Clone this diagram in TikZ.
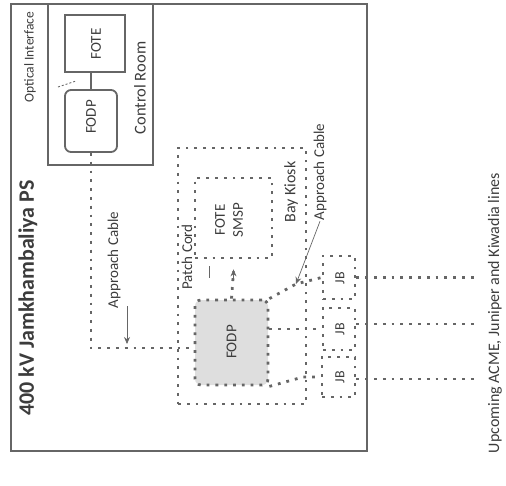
\documentclass[tikz,border=0pt]{standalone}
\usepackage{fontspec}
\setmainfont{Carlito}
\usetikzlibrary{arrows.meta,calc}
\definecolor{linegray}{HTML}{666666}
\definecolor{txtgray}{HTML}{3C3C3C}
\definecolor{fillgray}{HTML}{DEDEDE}
\begin{document}
\begin{tikzpicture}[x=1pt,y=-1pt,
  solidbox/.style={rectangle, draw=linegray, line width=1.8pt, inner sep=0pt},
  dotbox/.style={rectangle, draw=linegray, line width=2.8pt, dash pattern=on 2.8pt off 6pt, inner sep=0pt},
  dotline/.style={draw=linegray, line width=2.8pt, dash pattern=on 2.8pt off 6pt},
  pointer/.style={draw=linegray, line width=0.7pt, -{Stealth[length=7pt,width=6pt]}},
  conn/.style={draw=linegray, line width=1.8pt},
  lbl/.style={text=txtgray, rotate=90, inner sep=1pt, font=\fontsize{15}{16}\selectfont},
]
\useasboundingbox (0,0) rectangle (506,485);

% outer substation box and control room
\node[solidbox, line width=2.4pt, minimum width=356pt, minimum height=447pt] (ps) at (189,227.5) {};
\node[solidbox, line width=2.4pt, minimum width=105pt, minimum height=161pt] (cr) at (100.5,84.5) {};
\node[solidbox, line width=1.8pt, minimum width=60pt, minimum height=57pt] (fotec) at (95,43.5) {};
\node[solidbox, line width=1.8pt, rounded corners=6pt, minimum width=52pt, minimum height=62pt] (fodpc) at (91,121) {};
\draw[conn] (fodpc.north) -- (fodpc.north |- fotec.south);

% bay kiosk
\node[dotbox, minimum width=128pt, minimum height=256pt] (kiosk) at (242,276) {};
\node[dotbox, minimum width=77pt, minimum height=80pt] (smsp) at (233.5,218) {};
\node[dotbox, fill=fillgray, rounded corners=6pt, minimum width=73pt, minimum height=85pt] (fodpk) at (231.5,342.5) {};

% junction boxes
\node[dotbox, minimum width=32pt, minimum height=43pt] (jb1) at (339,277.5) {};
\node[dotbox, minimum width=32pt, minimum height=42pt] (jb2) at (339,329) {};
\node[dotbox, minimum width=33pt, minimum height=40pt] (jb3) at (338.5,377) {};

\coordinate (e1) at (475,277.5);
\coordinate (e2) at (475,324);
\coordinate (e3) at (475,379);
\coordinate (b1) at (296,284);
\coordinate (b3) at (303,377);

% connectors
\draw[dotline] (fodpc.south) |- ([yshift=-5.5pt]fodpk.west);
\draw[dotline] (fodpk.north) -- ([yshift=-12pt]smsp.south);
\draw[draw=linegray, line width=0.9pt, -{Stealth[length=7pt,width=6pt]}] ([yshift=-20pt]smsp.south) -- ([yshift=-10pt]smsp.south);
\draw[dotline] (fodpk.north east) -- (b1) -- (jb1.west);
\draw[dotline] (fodpk.east |- jb2.west) -- (jb2.west);
\draw[dotline] (fodpk.south east) -- (b3) -- (jb3.west);
\draw[dotline] (jb1.east) -- (e1);
\draw[dotline] (jb2.east |- e2) -- (e2);
\draw[dotline] (jb3.east |- e3) -- (e3);

% labels
\node[lbl, font=\fontsize{22}{23}\selectfont\bfseries] (title) at (28,298) {400 kV Jamkhambaliya PS};
\node[lbl, font=\fontsize{13.5}{14}\selectfont] (oi) at (30,57) {Optical Interface};
\node[lbl, font=\fontsize{16.5}{17}\selectfont] (crl) at (140,88) {Control Room};
\node[lbl, font=\fontsize{15}{16}\selectfont] (fotel) at (96,44) {FOTE};
\node[lbl, font=\fontsize{15}{16}\selectfont] (fodpl) at (91,117) {FODP};
\node[lbl] (acl) at (114,260) {Approach Cable};
\node[lbl] (pcl) at (187,257) {Patch Cord};
\node[lbl, align=center, font=\fontsize{15}{18}\selectfont] (smspl) at (229,220) {FOTE\\SMSP};
\node[lbl, font=\fontsize{15}{16}\selectfont] (fodpkl) at (231.5,342) {FODP};
\node[lbl, font=\fontsize{16}{17}\selectfont] (bkl) at (291,192) {Bay Kiosk};
\node[lbl] (acr) at (320,172) {Approach Cable};
\node[lbl, font=\fontsize{14}{15}\selectfont] (jb1l) at (340,278) {JB};
\node[lbl, font=\fontsize{14}{15}\selectfont] (jb2l) at (340,329) {JB};
\node[lbl, font=\fontsize{14}{15}\selectfont] (jb3l) at (340,377) {JB};
\node[lbl, font=\fontsize{16}{17}\selectfont] (upl) at (495,313) {Upcoming ACME, Juniper and Kiwadia lines};

% label pointers
\coordinate (c1) at (127,344);
\draw[pointer] (127,306) -- (c1);
\draw[pointer] (acr.west) -- (b1);
\draw[draw=linegray, line width=0.7pt] (209,266) -- (209,278);
\draw[draw=linegray, line width=0.9pt, dash pattern=on 2pt off 2pt] (58,87) -- (76,81);
\end{tikzpicture}
\end{document}
